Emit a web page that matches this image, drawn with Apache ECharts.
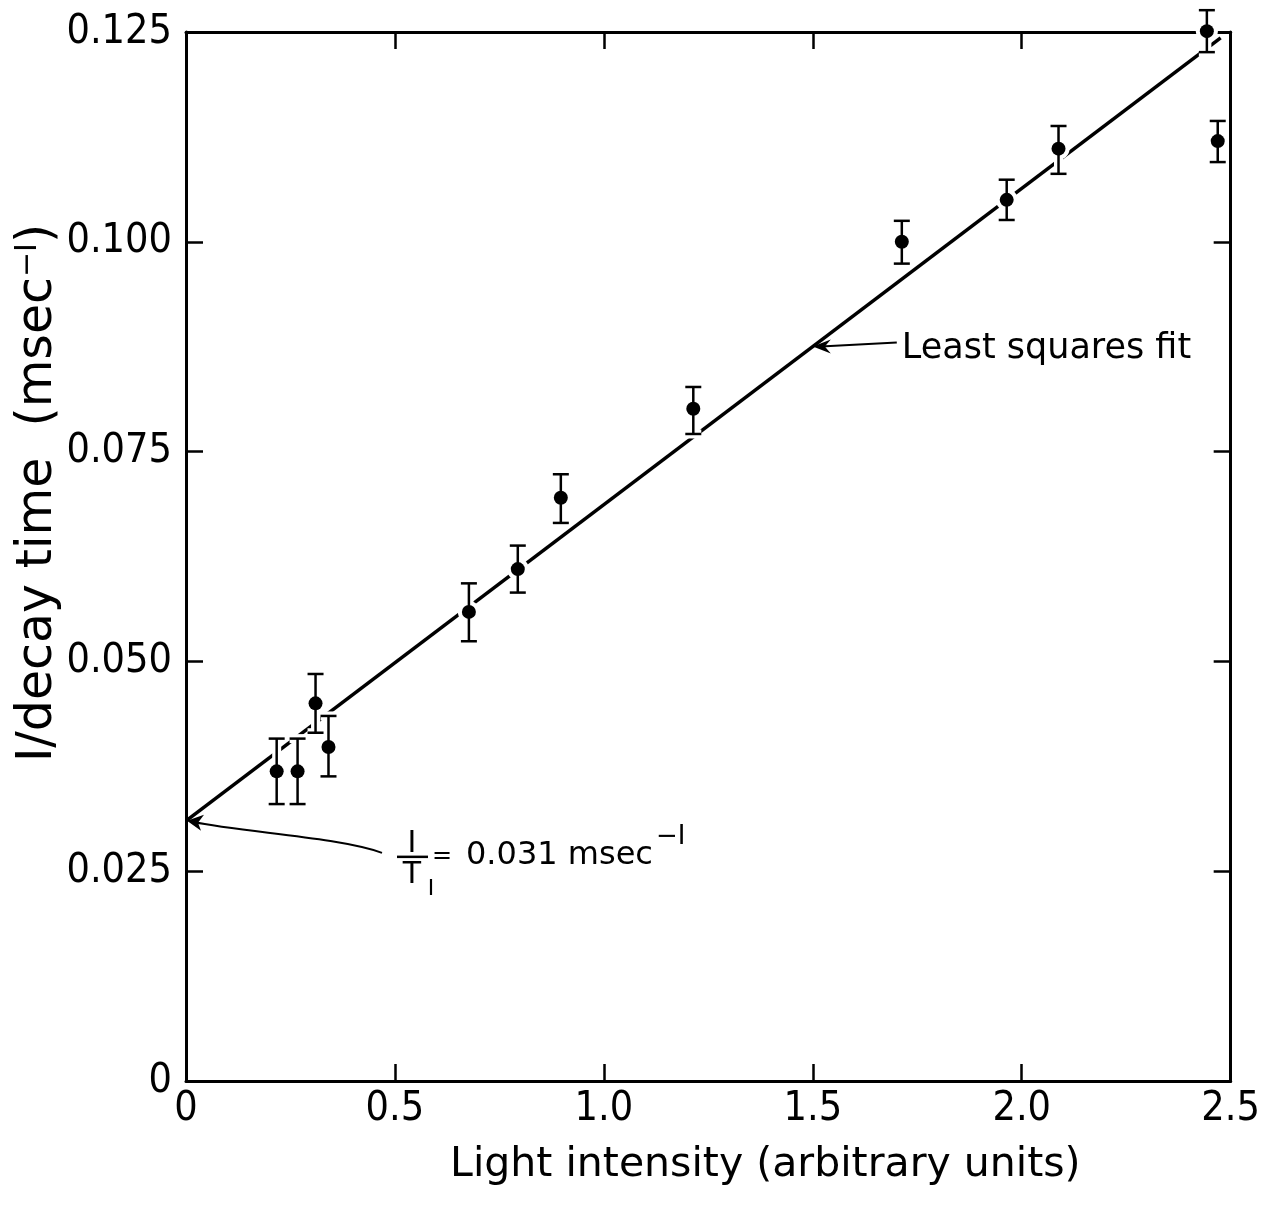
<!DOCTYPE html>
<html>
<head>
  <meta charset="utf-8">
  <title>Decay rate vs light intensity</title>
  <script src="https://cdn.jsdelivr.net/npm/echarts@6/dist/echarts.min.js"></script>
</head>
<body style="margin:0;background:#fff">
  <div id="main" style="width:1263px;height:1208px"></div>
  <script type="text/javascript">
    // measured points (light intensity, 1/decay time) with error bar ends
    var xs    = [0.217, 0.267, 0.310, 0.341, 0.677, 0.794, 0.897, 1.214, 1.713, 1.964, 2.088, 2.443, 2.469];
    var ys    = [0.0369, 0.0369, 0.0450, 0.0398, 0.0559, 0.0610, 0.0695, 0.0801, 0.1000, 0.1050, 0.1111, 0.1251, 0.1120];
    var yLow  = [0.0330, 0.0330, 0.0415, 0.0363, 0.0524, 0.0582, 0.0665, 0.0771, 0.0974, 0.1026, 0.1081, 0.1226, 0.1095];
    var yHigh = [0.0408, 0.0408, 0.0485, 0.0435, 0.0593, 0.0638, 0.0723, 0.0827, 0.1025, 0.1074, 0.1138, 0.1276, 0.1144];

    // least squares fit line end points
    var fitX = [0, 2.476];
    var fitY = [0.031, 0.1243];

    var xTickLabels = ['0', '0.5', '1.0', '1.5', '2.0', '2.5'];
    var yTickLabels = ['0', '0.025', '0.050', '0.075', '0.100', '0.125'];

    var tickFont = "'Liberation Sans Narrow', 'DejaVu Sans Condensed', sans-serif";
    var textFont = "'DejaVu Sans', sans-serif";

    var myChart = echarts.init(document.getElementById('main'));

    var pts = [];
    for (var i = 0; i < xs.length; i++) {
      pts.push([xs[i], ys[i], yLow[i], yHigh[i]]);
    }
    var fitData = [];
    for (var j = 0; j < fitX.length; j++) fitData.push([fitX[j], fitY[j]]);

    function renderPoint(params, api) {
      var c = api.coord([api.value(0), api.value(1)]);
      var lo = api.coord([api.value(0), api.value(2)]);
      var hi = api.coord([api.value(0), api.value(3)]);
      var w = 8;
      function bars(color, lw) {
        return [
          { type: 'line', shape: { x1: c[0], y1: lo[1], x2: c[0], y2: hi[1] }, style: { stroke: color, lineWidth: lw } },
          { type: 'line', shape: { x1: c[0] - w, y1: lo[1], x2: c[0] + w, y2: lo[1] }, style: { stroke: color, lineWidth: lw } },
          { type: 'line', shape: { x1: c[0] - w, y1: hi[1], x2: c[0] + w, y2: hi[1] }, style: { stroke: color, lineWidth: lw } }
        ];
      }
      var kids = bars('#fff', 9);
      kids.push({ type: 'circle', shape: { cx: c[0], cy: c[1], r: 11 }, style: { fill: '#fff' } });
      kids = kids.concat(bars('#000', 2.5));
      kids.push({ type: 'circle', shape: { cx: c[0], cy: c[1], r: 7 }, style: { fill: '#000' } });
      return { type: 'group', children: kids };
    }

    function axisCommon() {
      return {
        type: 'value',
        axisLine: { show: true, onZero: false, lineStyle: { color: '#000', width: 3 } },
        axisTick: { show: true, inside: true, length: 17, lineStyle: { color: '#000', width: 2.5 } },
        splitLine: { show: false }
      };
    }

    var option = {
      animation: false,
      backgroundColor: '#fff',
      grid: { left: 186, right: 29, top: 32, bottom: 127 },
      xAxis: [
        echarts.util.merge(axisCommon(), {
          min: 0, max: 2.5, interval: 0.5, position: 'bottom',
          axisLabel: {
            margin: 8, color: '#000', fontSize: 41, fontFamily: tickFont,
            formatter: function (v) { return xTickLabels[Math.round(v / 0.5)]; }
          },
          name: 'Light intensity (arbitrary units)',
          nameLocation: 'middle', nameGap: 64,
          nameTextStyle: { color: '#000', fontSize: 41, fontFamily: textFont, padding: [0, 0, 0, 114] }
        }, true),
        echarts.util.merge(axisCommon(), {
          min: 0, max: 2.5, interval: 0.5, position: 'top',
          axisLabel: { show: false }
        }, true)
      ],
      yAxis: [
        echarts.util.merge(axisCommon(), {
          min: 0, max: 0.125, interval: 0.025, position: 'left',
          axisLabel: {
            margin: 14, color: '#000', fontSize: 41, fontFamily: tickFont,
            formatter: function (v) { return yTickLabels[Math.round(v / 0.025)]; }
          }
        }, true),
        echarts.util.merge(axisCommon(), {
          min: 0, max: 0.125, interval: 0.025, position: 'right',
          axisLabel: { show: false }
        }, true)
      ],
      series: [
        {
          name: 'Least squares fit',
          type: 'line',
          data: fitData,
          symbol: 'none',
          lineStyle: { color: '#000', width: 3.5 },
          z: 2
        },
        {
          name: 'Measured',
          type: 'custom',
          data: pts,
          renderItem: renderPoint,
          clip: false,
          z: 3
        }
      ]
    };
    myChart.setOption(option);

    // annotations anchored to the data coordinates
    var slope = (fitY[1] - fitY[0]) / (fitX[1] - fitX[0]);
    var t1 = myChart.convertToPixel({ gridIndex: 0 }, [1.5, fitY[0] + 1.5 * slope]);
    var t2 = myChart.convertToPixel({ gridIndex: 0 }, [0, fitY[0]]);

    var graphics = [
      // arrow to the fit line
      { type: 'line', shape: { x1: t1[0] + 8, y1: t1[1], x2: t1[0] + 84, y2: t1[1] - 4 }, style: { stroke: '#000', lineWidth: 2 }, z: 10 },
      { type: 'polygon', shape: { points: [[t1[0], t1[1]], [t1[0] + 18, t1[1] - 7], [t1[0] + 12, t1[1]], [t1[0] + 18, t1[1] + 7]] }, style: { fill: '#000' }, z: 10 },
      { type: 'text', x: t1[0] + 89, y: t1[1] + 2, style: { text: 'Least squares fit', font: '35px ' + textFont, fill: '#000', verticalAlign: 'middle', align: 'left' }, z: 10 },

      // curved arrow to the intercept
      { type: 'bezierCurve', shape: { x1: t2[0] + 6, y1: t2[1] + 1, cpx1: t2[0] + 60, cpy1: t2[1] + 12, cpx2: t2[0] + 150, cpy2: t2[1] + 16, x2: t2[0] + 196, y2: t2[1] + 32 }, style: { stroke: '#000', lineWidth: 2, fill: null }, z: 10 },
      { type: 'polygon', shape: { points: [[t2[0] + 1, t2[1]], [t2[0] + 18, t2[1] - 6], [t2[0] + 12, t2[1] + 2], [t2[0] + 15, t2[1] + 10]] }, style: { fill: '#000' }, z: 10 },

      // 1/T1 = 0.031 msec^-1
      { type: 'text', x: t2[0] + 226, y: t2[1] + 23, style: { text: 'I', font: '30px ' + textFont, fill: '#000', align: 'center', verticalAlign: 'middle' }, z: 10 },
      { type: 'line', shape: { x1: t2[0] + 211, y1: t2[1] + 36, x2: t2[0] + 242, y2: t2[1] + 36 }, style: { stroke: '#000', lineWidth: 2.5 }, z: 10 },
      { type: 'text', x: t2[0] + 226, y: t2[1] + 54, style: { text: 'T', font: '30px ' + textFont, fill: '#000', align: 'center', verticalAlign: 'middle' }, z: 10 },
      { type: 'text', x: t2[0] + 245, y: t2[1] + 68, style: { text: 'I', font: '22px ' + textFont, fill: '#000', align: 'center', verticalAlign: 'middle' }, z: 10 },
      { type: 'text', x: t2[0] + 256, y: t2[1] + 36, style: { text: '=', font: '24px ' + textFont, fill: '#000', align: 'center', verticalAlign: 'middle' }, z: 10 },
      { type: 'text', x: t2[0] + 280, y: t2[1] + 35, style: { text: '0.031 msec', font: '32px ' + textFont, fill: '#000', align: 'left', verticalAlign: 'middle' }, z: 10 },
      { type: 'text', x: t2[0] + 470, y: t2[1] + 16, style: { text: '−I', font: '26px ' + textFont, fill: '#000', align: 'left', verticalAlign: 'middle' }, z: 10 },

      // y axis title
      {
        type: 'text', x: 38, y: 493, rotation: Math.PI / 2,
        style: {
          text: '{a|I/decay time  (msec}{s|−I}{a|)}',
          align: 'center', verticalAlign: 'middle', fill: '#000',
          rich: {
            a: { fontSize: 49, fontFamily: textFont, fill: '#000' },
            s: { fontSize: 30, fontFamily: textFont, fill: '#000', verticalAlign: 'top', padding: [0, 0, 18, 0] }
          }
        },
        z: 10
      }
    ];
    myChart.setOption({ graphic: graphics });
  </script>
</body>
</html>
